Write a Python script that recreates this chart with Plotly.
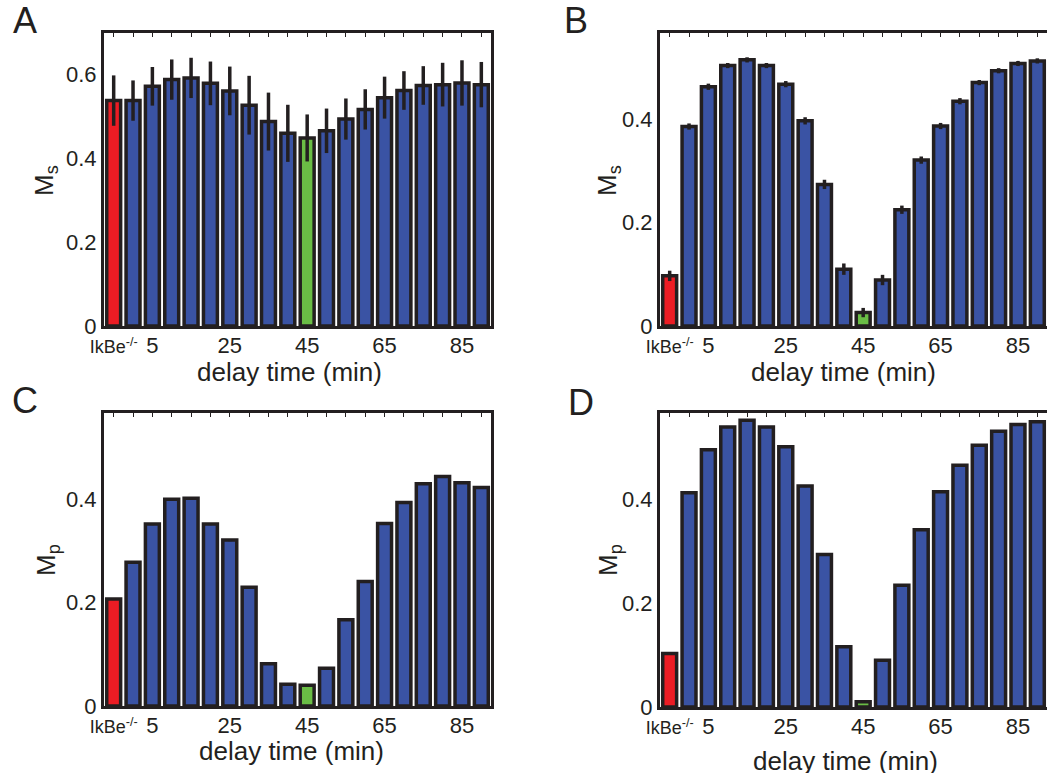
import plotly.graph_objects as go

# Delay times (min) after the IkBe-/- reference bar
delays = list(range(0, 95, 5))
categories = ["IkBe-/-"] + [str(d) for d in delays]
shown_ticks = ["IkBe-/-", "5", "25", "45", "65", "85"]

# Panel A: M_s with standard deviation
ms_a = [0.537, 0.537, 0.571, 0.587, 0.591, 0.578, 0.560, 0.526, 0.487, 0.459,
        0.448, 0.465, 0.493, 0.516, 0.544, 0.561, 0.573, 0.575, 0.579, 0.575]
err_a = [0.060, 0.048, 0.046, 0.048, 0.048, 0.052, 0.058, 0.070, 0.069, 0.068,
         0.056, 0.053, 0.049, 0.048, 0.050, 0.046, 0.046, 0.052, 0.054, 0.054]

# Panel B: M_s
ms_b = [0.097, 0.386, 0.463, 0.504, 0.515, 0.504, 0.468, 0.397, 0.274, 0.110,
        0.026, 0.089, 0.225, 0.321, 0.387, 0.435, 0.471, 0.494, 0.508, 0.513]
err_b = [0.010, 0.006, 0.006, 0.005, 0.005, 0.005, 0.006, 0.007, 0.009, 0.011,
         0.009, 0.010, 0.008, 0.007, 0.006, 0.006, 0.005, 0.005, 0.005, 0.005]

# Panel C: M_p
mp_c = [0.207, 0.278, 0.352, 0.400, 0.402, 0.352, 0.321, 0.230, 0.082, 0.042,
        0.040, 0.073, 0.167, 0.241, 0.353, 0.394, 0.430, 0.444, 0.432, 0.423]
err_c = [0.002] * 20

# Panel D: M_p
mp_d = [0.103, 0.413, 0.496, 0.540, 0.553, 0.540, 0.502, 0.426, 0.294, 0.116,
        0.010, 0.090, 0.235, 0.342, 0.415, 0.466, 0.505, 0.532, 0.545, 0.550]
err_d = [0.002] * 20

BLUE = "#3a53a4"
RED = "#ec1c24"
GREEN = "#6abd45"
INK = "#231f20"
FONT = "Liberation Sans, Arial, sans-serif"

W, H = 1047, 773


def bar_colors():
    cols = []
    for c in categories:
        if c == "IkBe-/-":
            cols.append(RED)
        elif c == "45":
            cols.append(GREEN)
        else:
            cols.append(BLUE)
    return cols


def tick_text():
    out = []
    for c in categories:
        if c == "IkBe-/-":
            out.append("<span style='font-size:18px'>IkBe<sup>-/-</sup></span>")
        elif c in shown_ticks:
            out.append(c)
        else:
            out.append("")
    return out


# panel boxes in pixels: (left, right, top, bottom)
boxes = {
    1: (104, 491, 33, 326),
    2: (660, 1047, 33, 326),
    3: (104, 491, 413, 706),
    4: (660, 1047, 413, 707),
}
yranges = {1: [0, 0.698], 2: [0, 0.567], 3: [0, 0.567], 4: [0, 0.567]}
ytickvals = {1: [0, 0.2, 0.4, 0.6], 2: [0, 0.2, 0.4], 3: [0, 0.2, 0.4], 4: [0, 0.2, 0.4]}
series = {1: (ms_a, err_a), 2: (ms_b, err_b), 3: (mp_c, err_c), 4: (mp_d, err_d)}

fig = go.Figure()
layout = {}
for k in range(1, 5):
    vals, errs = series[k]
    sfx = "" if k == 1 else str(k)
    fig.add_trace(go.Bar(
        x=categories, y=vals,
        marker=dict(color=bar_colors(), line=dict(color=INK, width=3.5)),
        error_y=dict(type="data", array=errs, color=INK, thickness=3.5, width=0),
        xaxis="x" + sfx, yaxis="y" + sfx, showlegend=False,
    ))
    l, r, t, b = boxes[k]
    layout["xaxis" + sfx] = dict(
        domain=[l / W, r / W], anchor="y" + sfx, automargin=False,
        type="category", range=[-0.5, 19.5],
        tickmode="array", tickvals=categories, ticktext=tick_text(),
        ticks="inside", ticklen=4, tickwidth=1, tickcolor=INK,
        ticklabelstandoff=-2,
        showline=True, linewidth=3, linecolor=INK, mirror="ticks",
        showgrid=False, zeroline=False, layer="below traces",
        tickfont=dict(family=FONT, size=22, color=INK),
    )
    layout["yaxis" + sfx] = dict(
        domain=[1 - b / H, 1 - t / H], anchor="x" + sfx, automargin=False,
        range=yranges[k], tickmode="array", tickvals=ytickvals[k],
        ticktext=["0" if v == 0 else f"{v:.1f}" for v in ytickvals[k]],
        ticks="", showline=True, linewidth=3, linecolor=INK, mirror=True,
        showgrid=False, zeroline=False, layer="below traces",
        tickfont=dict(family=FONT, size=22, color=INK),
    )

annotations = []
letters = [("A", 24.5, 20), ("B", 576, 20), ("C", 25, 400), ("D", 581, 403)]
for txt, px, py in letters:
    annotations.append(dict(text=txt, x=px / W, y=1 - py / H, xref="paper", yref="paper",
                            showarrow=False, xanchor="center", yanchor="middle",
                            font=dict(family=FONT, size=36, color=INK)))

ytitles = [("M<sub>s</sub>", 45, 181), ("M<sub>s</sub>", 608, 181),
           ("M<sub>p</sub>", 47, 560), ("M<sub>p</sub>", 609, 560)]
for txt, px, py in ytitles:
    annotations.append(dict(text=txt, x=px / W, y=1 - py / H, xref="paper", yref="paper",
                            showarrow=False, xanchor="center", yanchor="middle", textangle=-90,
                            font=dict(family=FONT, size=26, color=INK)))

xtitles = [(289, 372), (843.5, 372), (291, 751), (845.5, 761)]
for px, py in xtitles:
    annotations.append(dict(text="delay time (min)", x=px / W, y=1 - py / H,
                            xref="paper", yref="paper", showarrow=False,
                            xanchor="center", yanchor="middle",
                            font=dict(family=FONT, size=26, color=INK)))

fig.update_layout(
    width=W, height=H,
    margin=dict(l=0, r=0, t=0, b=0, pad=0, autoexpand=False),
    paper_bgcolor="white", plot_bgcolor="white",
    bargap=0.28, annotations=annotations,
    font=dict(family=FONT, color=INK),
    **layout,
)

fig.write_html("out.html")
